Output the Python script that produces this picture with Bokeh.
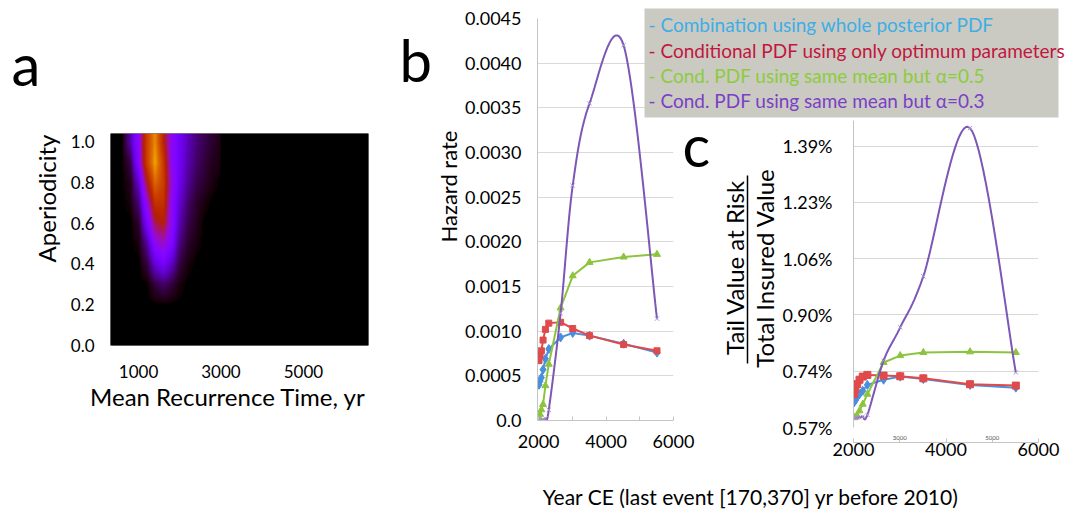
import math
import numpy as np
from bokeh.plotting import figure
from bokeh.layouts import column
from bokeh.models import (Range1d, LinearColorMapper, FixedTicker, LinearAxis,
                          GridBox, PrintfTickFormatter)
from bokeh.core.properties import value
from bokeh.embed import file_html
from bokeh.resources import INLINE

# ---------------------------------------------------------------- data
# Panel a: posterior density (relative, 0..1)
mean_recurrence = [600, 800, 1000, 1200, 1400, 1600, 1800, 2000, 2200, 2400, 2600, 2800, 3000]
aperiodicity = [0.2, 0.3, 0.4, 0.5, 0.6, 0.7, 0.8, 0.9, 1.0]
density_a02 = [0, 0, 0, 0, 0, 0, 0, 0, 0, 0, 0, 0, 0]
density_a03 = [0, 0, 0, 0, 0.04, 0.07, 0.04, 0.01, 0, 0, 0, 0, 0]
density_a04 = [0, 0, 0, 0.04, 0.16, 0.22, 0.14, 0.04, 0.01, 0, 0, 0, 0]
density_a05 = [0, 0, 0.01, 0.10, 0.30, 0.36, 0.25, 0.08, 0.03, 0.01, 0, 0, 0]
density_a06 = [0, 0, 0.03, 0.22, 0.45, 0.50, 0.30, 0.12, 0.05, 0.02, 0, 0, 0]
density_a07 = [0, 0.01, 0.08, 0.32, 0.58, 0.58, 0.30, 0.15, 0.07, 0.03, 0.01, 0, 0]
density_a08 = [0, 0.02, 0.15, 0.47, 0.74, 0.62, 0.33, 0.18, 0.10, 0.05, 0.03, 0.01, 0]
density_a09 = [0, 0.05, 0.27, 0.62, 0.87, 0.60, 0.30, 0.20, 0.12, 0.07, 0.04, 0.02, 0.01]
density_a10 = [0, 0.12, 0.30, 0.62, 0.82, 0.52, 0.30, 0.20, 0.13, 0.08, 0.05, 0.03, 0.015]
recurrence_ticks = [1000, 3000, 5000]
aperiodicity_ticks = [0.0, 0.2, 0.4, 0.6, 0.8, 1.0]

# Panels b and c
years = [2010, 2040, 2080, 2130, 2200, 2300, 2650, 3010, 3510, 4520, 5510]
hazard_whole_posterior = [0.00040, 0.00044, 0.00048, 0.00057, 0.00069, 0.00080, 0.00093, 0.00098, 0.00095, 0.00086, 0.00076]
hazard_optimum = [0.00067, 0.00073, 0.00078, 0.00090, 0.00102, 0.00109, 0.00110, 0.00103, 0.00095, 0.00085, 0.00078]
hazard_alpha05 = [0.00003, 0.00007, 0.00012, 0.00018, 0.00039, 0.00063, 0.00126, 0.00162, 0.00177, 0.00183, 0.00186]
hazard_alpha03 = [0.0, 0.0, 0.0, 0.00001, 0.00002, 0.00012, 0.00120, 0.00263, 0.00355, 0.00420, 0.00114]
hazard_ticks = [0.0, 0.0005, 0.0010, 0.0015, 0.0020, 0.0025, 0.0030, 0.0035, 0.0040, 0.0045]
hazard_tick_labels = ["0.0", "0.0005", "0.0010", "0.0015", "0.0020", "0.0025", "0.0030", "0.0035", "0.0040", "0.0045"]

tvar_whole_posterior = [0.644, 0.650, 0.659, 0.668, 0.678, 0.695, 0.710, 0.719, 0.712, 0.695, 0.687]
tvar_optimum = [0.668, 0.683, 0.697, 0.710, 0.719, 0.724, 0.722, 0.720, 0.714, 0.697, 0.693]
tvar_alpha05 = [0.600, 0.602, 0.605, 0.620, 0.639, 0.668, 0.760, 0.780, 0.789, 0.791, 0.789]
tvar_alpha03 = [0.600, 0.600, 0.600, 0.601, 0.603, 0.608, 0.765, 0.862, 1.010, 1.440, 0.731]
tvar_ticks = [0.5714, 0.7347, 0.8980, 1.0612, 1.2245, 1.3878]
tvar_tick_labels = ["0.57%", "0.74%", "0.90%", "1.06%", "1.23%", "1.39%"]

year_ticks = [2000, 3000, 4000, 5000, 6000]
year_tick_labels = ["2000", "", "4000", "", "6000"]
year_small_ticks = [3000, 5000]

legend_labels = ["- Combination using whole posterior PDF",
                 "- Conditional PDF using only optimum parameters",
                 "- Cond. PDF using same mean but \u03b1=0.5",
                 "- Cond. PDF using same mean but \u03b1=0.3"]

# ---------------------------------------------------------------- styles
W, H = 1068, 515
FONT = "Lato"
C_BLUE, C_RED, C_GREEN, C_PURPLE = "#4b8fdc", "#df4a4a", "#8dc43f", "#7d56b6"
LEGEND_COLORS = ["#3eaee6", "#c2163e", "#8ccc3c", "#7a40c6"]
GRID = "#d9d9d9"
AXIS = "#c4c4c4"


def panel(xr, yr, left, top, right, bottom, **kw):
    p = figure(width=W, height=H, x_range=xr, y_range=yr, output_backend="svg",
               toolbar_location=None, min_border_left=left, min_border_top=top,
               min_border_right=W - right, min_border_bottom=H - bottom,
               border_fill_alpha=0, outline_line_color=None, **kw)
    return p


def style_axis(ax, size="17px"):
    ax.major_label_text_font = FONT
    ax.major_label_text_font_size = size
    ax.major_label_text_color = "black"
    ax.minor_tick_line_color = None


def gnuplot_palette(n=256):
    pal = []
    for i in range(n):
        t = i / (n - 1)
        r, g, b = math.sqrt(t), t ** 3, max(0.0, math.sin(2 * math.pi * t))
        pal.append("#%02x%02x%02x" % (round(r * 255), round(g * 255), round(b * 255)))
    return pal


def smooth(xs, ys, n=24):
    # Excel-style smoothed line (Bezier through the points)
    P = np.column_stack([xs, ys]).astype(float)
    E = np.vstack([P[0], P, P[-1]])
    out = []
    for i in range(len(P) - 1):
        p0, p1, p2, p3 = E[i], E[i + 1], E[i + 2], E[i + 3]
        c1 = p1 + (p2 - p0) / 6.0
        c2 = p2 - (p3 - p1) / 6.0
        t = np.linspace(0, 1, n)[:, None]
        out.append((1 - t) ** 3 * p1 + 3 * (1 - t) ** 2 * t * c1 + 3 * (1 - t) * t ** 2 * c2 + t ** 3 * p2)
    pts = np.vstack(out)
    return pts[:, 0], pts[:, 1]


# ---------------------------------------------------------------- panel a
A_X0, A_X1, A_Y1 = 320, 6580, 1.04
pa = panel(Range1d(A_X0, A_X1), Range1d(0, A_Y1), 110, 133, 368, 345,
           background_fill_color="black")
rows = [density_a02, density_a03, density_a04, density_a05, density_a06,
        density_a07, density_a08, density_a09, density_a10]
mu_f = np.linspace(A_X0, A_X1, 540)
al_f = np.linspace(0, A_Y1, 280)
tmp = np.array([np.interp(mu_f, mean_recurrence, r, left=0, right=0) for r in rows])
img = np.array([np.interp(al_f, aperiodicity, tmp[:, j], left=0) for j in range(tmp.shape[1])]).T
pa.image(image=[img], x=A_X0, y=0, dw=A_X1 - A_X0, dh=A_Y1,
         color_mapper=LinearColorMapper(palette=gnuplot_palette(), low=0, high=1))
pa.grid.visible = False
pa.xaxis.ticker = FixedTicker(ticks=recurrence_ticks)
pa.yaxis.ticker = FixedTicker(ticks=aperiodicity_ticks)
pa.yaxis.formatter = PrintfTickFormatter(format="%.1f")
for ax in pa.axis:
    style_axis(ax, "17px")
    ax.axis_line_color = None
    ax.major_tick_line_color = None
pa.yaxis.major_label_standoff = 10
pa.xaxis.major_label_standoff = 13

# ---------------------------------------------------------------- panel b
pb = panel(Range1d(1965, 6000), Range1d(0, 0.0045), 537, 18, 673, 420,
           background_fill_alpha=0)
pb.line(years, hazard_whole_posterior, color=C_BLUE, line_width=2)
pb.scatter(years, hazard_whole_posterior, marker="diamond", size=9, color=C_BLUE)
pb.line(years, hazard_optimum, color=C_RED, line_width=2)
pb.scatter(years, hazard_optimum, marker="square", size=6, color=C_RED)
pb.line(years, hazard_alpha05, color=C_GREEN, line_width=2)
pb.scatter(years, hazard_alpha05, marker="triangle", size=7, color=C_GREEN)
sx, sy = smooth(years, hazard_alpha03)
pb.line(sx, sy, color=C_PURPLE, line_width=2)
pb.scatter(years, hazard_alpha03, marker="x", size=6, line_color="#a896cc", line_width=1)
pb.xgrid.visible = False
pb.ygrid.grid_line_color = GRID
pb.yaxis.ticker = FixedTicker(ticks=hazard_ticks)
pb.yaxis.major_label_overrides = dict(zip(hazard_ticks, hazard_tick_labels))
pb.xaxis.ticker = FixedTicker(ticks=year_ticks)
pb.xaxis.major_label_overrides = dict(zip(year_ticks, year_tick_labels))
for ax in pb.axis:
    style_axis(ax, "18px")
    ax.axis_line_color = AXIS
pb.yaxis.major_tick_line_color = None
pb.yaxis.major_label_standoff = 10
pb.xaxis.major_tick_line_color = AXIS
pb.xaxis.major_tick_in = 4
pb.xaxis.major_tick_out = 0
pb.xaxis.major_label_standoff = 14

# ---------------------------------------------------------------- panel c
pc = panel(Range1d(2000, 6000), Range1d(0.5714, 1.462), 853, 120, 1038, 427,
           background_fill_alpha=0, x_axis_type=None)
pc.line(years, tvar_whole_posterior, color=C_BLUE, line_width=2)
pc.scatter(years, tvar_whole_posterior, marker="diamond", size=9, color=C_BLUE)
pc.line(years, tvar_optimum, color=C_RED, line_width=2)
pc.scatter(years, tvar_optimum, marker="square", size=7, color=C_RED)
pc.line(years, tvar_alpha05, color=C_GREEN, line_width=2)
pc.scatter(years, tvar_alpha05, marker="triangle", size=7, color=C_GREEN)
sx, sy = smooth(years, tvar_alpha03)
pc.line(sx, sy, color=C_PURPLE, line_width=2)
pc.scatter(years, tvar_alpha03, marker="x", size=6, line_color="#a896cc", line_width=1)
pc.ygrid.grid_line_color = GRID
pc.yaxis.ticker = FixedTicker(ticks=tvar_ticks)
pc.yaxis.major_label_overrides = dict(zip(tvar_ticks, tvar_tick_labels))
style_axis(pc.yaxis[0], "18px")
pc.yaxis.axis_line_color = AXIS
pc.yaxis.major_tick_line_color = None
pc.yaxis.major_label_standoff = 15

small_axis = LinearAxis(ticker=FixedTicker(ticks=year_small_ticks), axis_line_color=None,
                        major_tick_line_color=None, minor_tick_line_color=None,
                        major_label_text_font=FONT, major_label_text_font_size="6px",
                        major_label_text_color="#555555", major_label_standoff=2)
big_axis = LinearAxis(ticker=FixedTicker(ticks=year_ticks), axis_line_color=AXIS,
                      major_tick_line_color=AXIS, major_tick_in=4, major_tick_out=0,
                      minor_tick_line_color=None, major_label_standoff=0,
                      major_label_overrides=dict(zip(year_ticks, year_tick_labels)),
                      major_label_text_font=FONT, major_label_text_font_size="18px",
                      major_label_text_color="black")
pc.add_layout(small_axis, "below")
pc.add_layout(big_axis, "below")

# ---------------------------------------------------------------- overlay (texts, legend)
ov = figure(width=W, height=H, x_range=Range1d(0, W), y_range=Range1d(0, H),
            output_backend="svg", toolbar_location=None, x_axis_type=None, y_axis_type=None,
            min_border=0, border_fill_alpha=0, background_fill_alpha=0,
            outline_line_color=None)


def Y(v):
    return H - v


ov.quad(left=644, right=1058, top=Y(8), bottom=Y(117), fill_color="#cacac2", line_color=None)
ov.text(x=[648] * 4, y=[Y(24), Y(49.5), Y(74.5), Y(99.5)], text=legend_labels,
        text_color=LEGEND_COLORS, text_font=value(FONT), text_font_size="19px",
        text_align="left", text_baseline="middle")

ov.text(x=[11, 399, 682], y=[Y(63), Y(59), Y(144)], text=["a", "b", "c"],
        text_font=value(FONT), text_font_size="58px", text_color="black",
        text_align="left", text_baseline="middle")

ov.text(x=[46, 733.5, 764], y=[Y(198), Y(267), Y(267.5)],
        text=["Aperiodicity", "Tail Value at Risk", "Total Insured Value"],
        angle=math.pi / 2, text_font=value(FONT), text_font_size="24px",
        text_color="black", text_align="center", text_baseline="middle")
ov.text(x=[448], y=[Y(186)], text=["Hazard rate"],
        angle=math.pi / 2, text_font=value(FONT), text_font_size="22px",
        text_color="black", text_align="center", text_baseline="middle")
ov.segment(x0=[747], y0=[Y(175)], x1=[747], y1=[Y(363)], line_color="black", line_width=1.5)
ov.text(x=[227.5], y=[Y(396)], text=["Mean Recurrence Time, yr"],
        text_font=value(FONT), text_font_size="24px", text_color="black",
        text_align="center", text_baseline="middle")
ov.text(x=[750.5], y=[Y(495.5)], text=["Year CE (last event [170,370] yr before 2010)"],
        text_font=value(FONT), text_font_size="21px", text_color="black",
        text_align="center", text_baseline="middle")

grid = GridBox(children=[(column(pa), 0, 0), (column(pb), 0, 0),
                         (column(pc), 0, 0), (column(ov), 0, 0)])

open("out.html", "w").write(file_html(grid, INLINE))
